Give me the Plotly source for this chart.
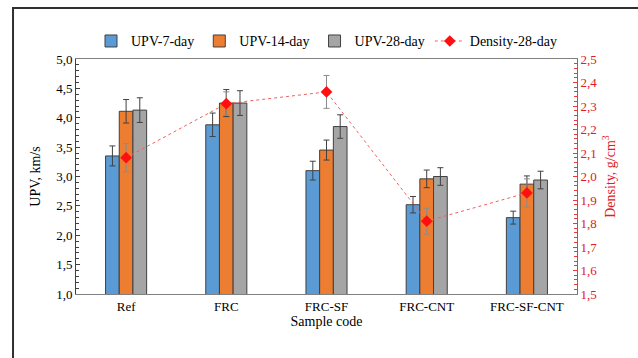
import plotly.graph_objects as go

categories = ["Ref", "FRC", "FRC-SF", "FRC-CNT", "FRC-SF-CNT"]
upv7 = [3.35, 3.88, 3.10, 2.52, 2.30]
upv7_err = [0.17, 0.20, 0.16, 0.14, 0.11]
upv14 = [4.11, 4.25, 3.45, 2.96, 2.87]
upv14_err = [0.20, 0.23, 0.17, 0.15, 0.14]
upv28 = [4.13, 4.25, 3.85, 3.00, 2.94]
upv28_err = [0.21, 0.21, 0.20, 0.15, 0.15]
density28 = [2.08, 2.31, 2.36, 1.81, 1.93]
density28_err = [0.06, 0.05, 0.07, 0.055, 0.06]

FONT = "Liberation Serif"
EDGE = "#404040"

fig = go.Figure()
for name, vals, errs, col in [
    ("UPV-7-day", upv7, upv7_err, "#5B9BD5"),
    ("UPV-14-day", upv14, upv14_err, "#ED7D31"),
    ("UPV-28-day", upv28, upv28_err, "#A5A5A5"),
]:
    fig.add_trace(go.Bar(
        x=categories, y=vals, name=name,
        marker=dict(color=col, line=dict(color=EDGE, width=1)),
        error_y=dict(type="data", array=errs, color=EDGE, thickness=1, width=3),
    ))

fig.add_trace(go.Scatter(
    x=categories, y=density28, name="Density-28-day", yaxis="y2",
    mode="lines+markers",
    line=dict(color="#F06060", width=1, dash="dot"),
    marker=dict(symbol="diamond", color="#FF1010", size=9),
    error_y=dict(type="data", array=density28_err, color="#8C8C8C", thickness=1, width=3),
))

fig.update_layout(
    width=638, height=358,
    margin=dict(l=76, r=61, t=59, b=64),
    paper_bgcolor="white", plot_bgcolor="white",
    separators=", ",
    barmode="group", bargap=0.59, bargroupgap=0,
    font=dict(family=FONT, size=12, color="black"),
    showlegend=True,
    legend=dict(orientation="h", x=0.5, xanchor="center", y=1.075, yanchor="middle",
                font=dict(family=FONT, size=14, color="black"),
                traceorder="normal", itemwidth=30),
    xaxis=dict(
        showline=True, linecolor="#808080", linewidth=1, mirror=True,
        ticks="", showgrid=False,
        title=dict(text="Sample code", font=dict(family=FONT, size=14), standoff=2),
        tickfont=dict(family=FONT, size=13),
    ),
    yaxis=dict(
        range=[1.0, 5.0], tick0=1.0, dtick=0.5, tickformat=".1f",
        showline=True, linecolor="#404040", linewidth=1,
        ticks="inside", ticklen=4, tickcolor="#404040",
        minor=dict(ticks="inside", dtick=0.1, ticklen=3, tickcolor="#404040"),
        showgrid=False, zeroline=False,
        title=dict(text="UPV, km/s", font=dict(family=FONT, size=14), standoff=12),
        tickfont=dict(family=FONT, size=13),
    ),
    yaxis2=dict(
        overlaying="y", side="right",
        range=[1.5, 2.5], tick0=1.5, dtick=0.1, tickformat=".1f",
        showline=True, linecolor="#E83C3C", linewidth=1,
        ticks="inside", ticklen=4, tickcolor="#E83C3C",
        minor=dict(ticks="inside", dtick=0.02, ticklen=3, tickcolor="#E83C3C"),
        showgrid=False, zeroline=False,
        title=dict(text="Density, g/cm<sup>3</sup>", font=dict(family=FONT, size=14, color="#E02020"), standoff=8),
        tickfont=dict(family=FONT, size=13, color="#E02020"),
    ),
    shapes=[dict(type="rect", xref="paper", yref="paper",
                 x0=-0.1257, x1=1.14, y0=-0.31, y1=1.217,
                 line=dict(color="#303030", width=2), fillcolor="rgba(0,0,0,0)", layer="below")],
)

fig.write_html("out.html")
